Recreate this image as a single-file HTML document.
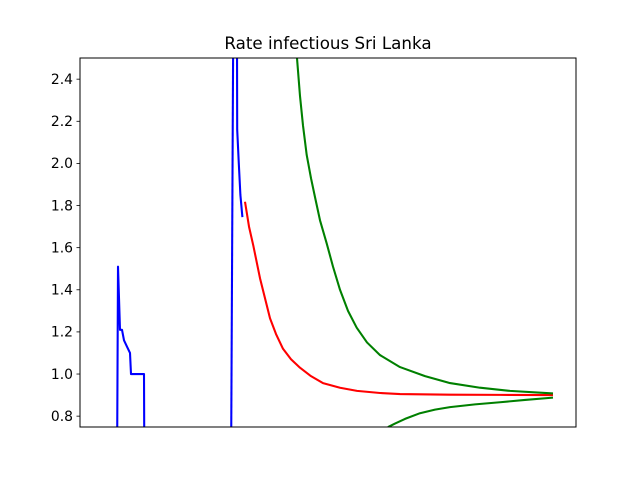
<!DOCTYPE html>
<html><head><meta charset="utf-8"><style>
body{margin:0;background:#fff;}
svg{display:block;font-family:"DejaVu Sans","Liberation Sans",sans-serif;}
</style></head><body>
<svg id="chart" width="640" height="480" viewBox="0 0 640 480">
<rect width="640" height="480" fill="#fff"/>
<defs><clipPath id="pc"><rect x="80" y="58" width="496" height="369"/></clipPath></defs>
<text x="328" y="49" text-anchor="middle" font-size="16.7">Rate infectious Sri Lanka</text>
<g id="yaxis"></g>
<g id="series" clip-path="url(#pc)"></g>
<rect x="80" y="58" width="496" height="369" fill="none" stroke="#000" stroke-width="1"/>
</svg>
<script>
const yTicks=[0.8,1.0,1.2,1.4,1.6,1.8,2.0,2.2,2.4];
const yTickLabels=["0.8","1.0","1.2","1.4","1.6","1.8","2.0","2.2","2.4"];
const blue1X=[9.25,9.5,10,10.5,11,11.75,12.5,12.75,16,16.1];
const blue1Y=[0.5,1.51,1.21,1.21,1.16,1.13,1.10,1.0,1.0,0.5];
const blue2X=[37.75,38.4];
const blue2Y=[0.5,3.0];
const blue3X=[39.2,39.3,39.7,40.1,40.6];
const blue3Y=[3.0,2.16,2.0,1.85,1.745];
const redX=[41.25,42.25,43.325,45,46.25,47.5,49,50.75,52.75,55,57.75,60.75,65,69.25,75,80,92.5,105,118.25];
const redY=[1.818,1.70,1.61,1.455,1.36,1.265,1.19,1.12,1.07,1.03,0.99,0.957,0.935,0.92,0.91,0.905,0.902,0.901,0.90];
const greenUpX=[54.25,55,55.75,56.675,57.75,58.75,60,61.675,63.25,65,67,69.175,71.75,75,80,86.25,92.5,100,107.5,118.25];
const greenUpY=[2.5,2.32,2.18,2.04,1.93,1.84,1.73,1.62,1.51,1.40,1.30,1.22,1.15,1.09,1.033,0.99,0.957,0.935,0.92,0.908];
const greenLoX=[77,78.75,81.25,85,88.75,92.5,98.75,105,111.25,118.25];
const greenLoY=[0.748,0.765,0.787,0.814,0.831,0.843,0.856,0.866,0.877,0.888];

const NS="http://www.w3.org/2000/svg";
const X0=80,W=496,Y0=58,H=369,xmin=0,xmax=124,ymin=0.7485,ymax=2.5005;
function xs(v){return X0+(v-xmin)/(xmax-xmin)*W;}
function ys(v){return Y0+H-(v-ymin)/(ymax-ymin)*H;}
const ax=document.getElementById('yaxis');
yTicks.forEach((t,i)=>{
  const l=document.createElementNS(NS,'line');
  l.setAttribute('x1',X0-3.5);l.setAttribute('x2',X0);
  l.setAttribute('y1',ys(t));l.setAttribute('y2',ys(t));
  l.setAttribute('stroke','#000');l.setAttribute('stroke-width','0.8');
  
  
  ax.appendChild(l);
  const tx=document.createElementNS(NS,'text');
  tx.setAttribute('x',X0-7);tx.setAttribute('y',ys(t)+4.8);
  tx.setAttribute('text-anchor','end');tx.setAttribute('font-size','13.9');
  tx.textContent=yTickLabels[i];
  
  
  ax.appendChild(tx);
});
const sg=document.getElementById('series');
function line(xa,ya,color,name){
  const p=document.createElementNS(NS,'polyline');
  p.setAttribute('points',xa.map((x,i)=>xs(x).toFixed(2)+','+ys(ya[i]).toFixed(2)).join(' '));
  p.setAttribute('fill','none');p.setAttribute('stroke',color);
  p.setAttribute('stroke-width','2.08');p.setAttribute('stroke-linejoin','round');
  
  
  sg.appendChild(p);
}
line(blue1X,blue1Y,'#0000ff','blue-line-1');
line(blue2X,blue2Y,'#0000ff','blue-line-2');
line(blue3X,blue3Y,'#0000ff','blue-line-3');
line(redX,redY,'#ff0000','red-line');
line(greenUpX,greenUpY,'#008000','green-upper-line');
line(greenLoX,greenLoY,'#008000','green-lower-line');
</script>
</body></html>
